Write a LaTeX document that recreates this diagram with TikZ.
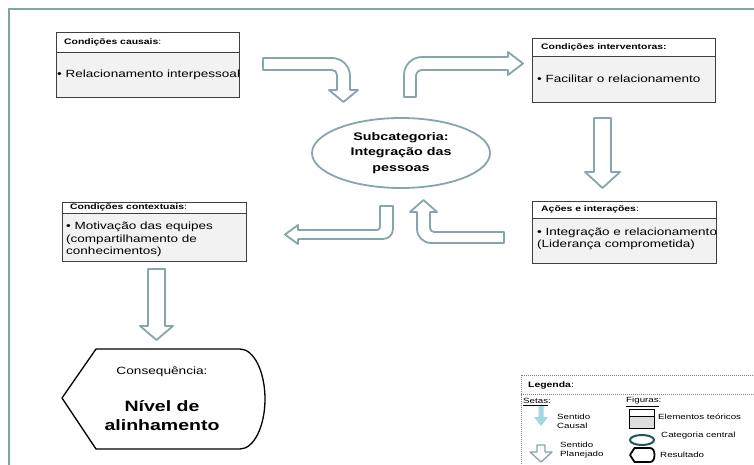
\documentclass[tikz,border=0pt]{standalone}
\usepackage{fontspec}
\setmainfont{Liberation Sans}[FakeStretch=1.3]
\usetikzlibrary{shapes.geometric}
\definecolor{arrowc}{RGB}{135,166,171}
\definecolor{framec}{RGB}{130,163,168}
\definecolor{bodyfill}{RGB}{242,242,242}
\definecolor{boxline}{RGB}{64,64,64}
\definecolor{causalblue}{RGB}{160,215,225}
\definecolor{darkteal}{RGB}{30,85,95}
\definecolor{iconfill}{RGB}{222,222,222}
\begin{document}
\begin{tikzpicture}[x=1pt,y=-1pt,
  boxst/.style={draw=boxline, line width=0.8pt},
  hdr/.style={anchor=west, inner sep=0pt, font=\fontsize{8}{9.5}\selectfont\bfseries},
  bodytxt/.style={anchor=west, align=left, inner sep=0pt, font=\fontsize{10.4}{12.3}\selectfont},
  barrow/.style={draw=arrowc, line width=1.8pt, fill=white, line join=round},
  legtxt/.style={anchor=west, align=left, inner sep=0pt, font=\fontsize{7.5}{9}\selectfont},
]
\useasboundingbox (0,0) rectangle (754,465);
\clip (0,0) rectangle (754,465);
\fill[white] (0,0) rectangle (754,465);

% outer frame
\draw[framec, line width=2pt] (9,470) -- (9,9) -- (760,9);

% Box 1: causal conditions
\draw[boxst, fill=bodyfill] (56,32) rectangle (239,97);
\draw[boxst, fill=white] (56,32) rectangle (239,52);
\node[hdr] (h1) at (64,42.5) {Condições causais\textmd{:}};
\node[bodytxt] (b1) at (57,74.5) {• Relacionamento interpessoal};

% Box 2: intervening conditions
\draw[boxst, fill=bodyfill] (532,38) rectangle (715,102);
\draw[boxst, fill=white] (532,38) rectangle (715,56);
\node[hdr] (h2) at (541,47.5) {Condições interventoras:};
\node[bodytxt] (b2) at (537,79) {• Facilitar o relacionamento};

% Box 3: contextual conditions
\draw[boxst, fill=bodyfill] (62,202) rectangle (246,261);
\draw[boxst, fill=white] (62,202) rectangle (246,213);
\node[hdr] (h3) at (70,207.5) {Condições contextuais\textmd{:}};
\node[bodytxt] (b3) at (66,239.5) {• Motivação das equipes\\(compartilhamento de\\conhecimentos)};

% Box 4: actions and interactions
\draw[boxst, fill=bodyfill] (532,201) rectangle (716,263);
\draw[boxst, fill=white] (532,201) rectangle (716,218);
\node[hdr] (h4) at (541,209.5) {Ações e interações\textmd{:}};
\node[bodytxt] (b4) at (537,238.5) {• Integração e relacionamento\\(Liderança comprometida)};

% central ellipse
\node[ellipse, draw=arrowc, line width=1.8pt, fill=white, minimum width=178pt, minimum height=70pt,
      inner sep=0pt, align=center, font=\fontsize{11}{15.5}\selectfont\bfseries]
      (sub) at (401,153) {Subcategoria:\\Integração das\\pessoas};

% Arrow A: causal -> ellipse
\draw[barrow] (263,58) -- (332,58) .. controls (342,58) and (350,66) .. (350,76)
  -- (350,90) -- (358,90) -- (343.5,102) -- (329,90) -- (337,90) -- (337,75)
  .. controls (337,72.2) and (334.8,70) .. (332,70) -- (263,70) -- cycle;

% Arrow B: ellipse -> intervening
\draw[barrow] (404,97) -- (404,75) .. controls (404,65) and (412,57) .. (422,57)
  -- (508,57) -- (508,52) -- (523,63.5) -- (508,75) -- (508,70) -- (422,70)
  .. controls (418.7,70) and (416,72.7) .. (416,76) -- (416,97) -- cycle;

% Arrow C: intervening -> actions
\draw[barrow] (594,118) -- (611,118) -- (611,172) -- (620,172) -- (602.5,188)
  -- (585,172) -- (594,172) -- cycle;

% Arrow D: ellipse -> contextual
\draw[barrow] (380,206) -- (393,206) -- (393,229) .. controls (393,234.5) and (388.5,239) .. (383,239)
  -- (298,239) -- (298,244) -- (285,234.5) -- (298,225) -- (298,230) -- (377,230)
  .. controls (378.7,230) and (380,228.7) .. (380,227) -- cycle;

% Arrow E: actions -> ellipse
\draw[barrow] (504,232) -- (434,232) .. controls (431.8,232) and (430,230.2) .. (430,228)
  -- (430,212) -- (437,212) -- (423.5,200) -- (410,212) -- (417,212) -- (417,229)
  .. controls (417,236.7) and (423.3,243) .. (431,243) -- (504,243) -- cycle;

% Arrow F: contextual -> consequence
\draw[barrow] (148,269) -- (165,269) -- (165,326) -- (173,326) -- (156.5,340)
  -- (140,326) -- (148,326) -- cycle;

% Consequence shape
\draw[black, line width=1.3pt, fill=white, line join=round] (62,398) -- (96,349) -- (240,349)
  .. controls (254,349) and (265,372) .. (265,399)
  .. controls (265,426) and (254,449) .. (240,449) -- (96,449) -- cycle;
\node[inner sep=0pt, font=\fontsize{10.5}{12}\selectfont] (cq) at (162,372) {Consequência:};
\node[inner sep=0pt, align=center, font=\fontsize{15}{19}\selectfont\bfseries] (nv) at (162,415.5) {Nível de\\alinhamento};

% Legend
\draw[gray, line width=0.6pt, dash pattern=on 1pt off 1pt, fill=white] (521,375) rectangle (770,480);
\draw[gray, line width=0.6pt, dash pattern=on 1pt off 1pt] (521,394) -- (770,394);
\node[anchor=west, inner sep=0pt, font=\fontsize{8}{9.5}\selectfont\bfseries] (lg) at (528,385) {Legenda\textmd{:}};
\node[legtxt] (setas) at (523,402) {\underline{Setas}:};
\node[legtxt] (figs) at (626,402) {\underline{Figuras}:};
\fill[causalblue] (538.5,406) -- (543.5,406) -- (543.5,417) -- (548,417) -- (541,426) -- (534,417) -- (538.5,417) -- cycle;
\node[legtxt] (sc) at (557,421.5) {Sentido\\Causal};
\draw[draw=arrowc, line width=1.3pt, fill=white, line join=round] (537,445) -- (545,445) -- (545,452) -- (552,452) -- (541,462) -- (530,452) -- (537,452) -- cycle;
\node[legtxt] (sp) at (560,450.5) {Sentido\\Planejado};
\draw[black, line width=0.8pt, fill=iconfill] (629,409) rectangle (654,428);
\draw[black, line width=0.8pt, fill=white] (629,409) rectangle (654,416);
\node[legtxt] (et) at (658,417) {Elementos teóricos};
\draw[darkteal, line width=2pt] (642,440) ellipse [x radius=12, y radius=5];
\node[legtxt] (cc) at (661,436) {Categoria central};
\draw[black, line width=1.8pt, line join=round] (630,455) -- (634.5,448) -- (650,448)
  .. controls (653,448) and (654.5,451) .. (654.5,455)
  .. controls (654.5,459) and (653,462) .. (650,462) -- (634.5,462) -- cycle;
\node[legtxt] (rs) at (660,455) {Resultado};
\end{tikzpicture}
\end{document}
